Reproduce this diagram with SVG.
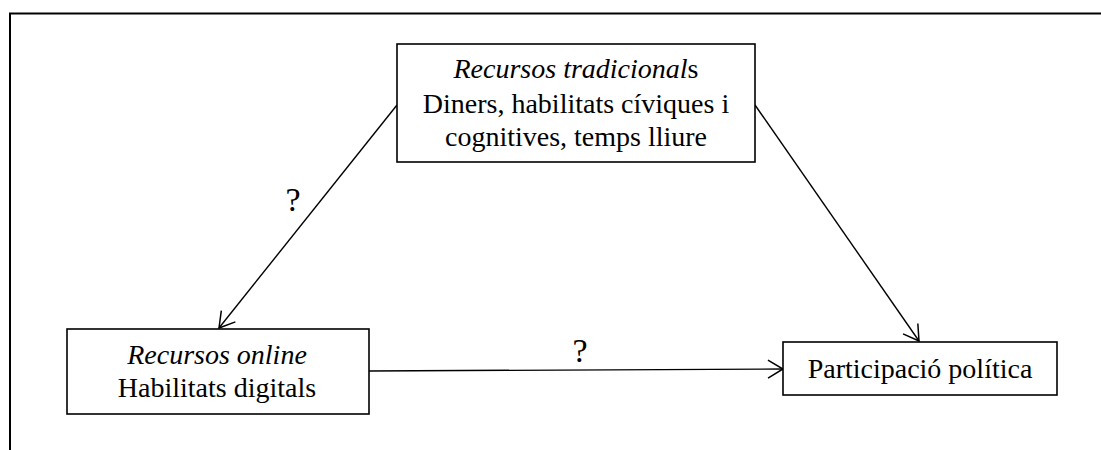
<svg xmlns="http://www.w3.org/2000/svg" width="1101" height="450" viewBox="0 0 1101 450">
<style>
text{font-family:"Liberation Serif","Times New Roman",serif;font-size:28px;fill:#000;text-anchor:middle}
.it{font-style:italic}
.box{fill:#fff;stroke:#000;stroke-width:1.6}
.conn{stroke:#000;stroke-width:1.4;fill:none}
.q{font-size:34px}
</style>
<defs>
<marker id="arr" markerUnits="userSpaceOnUse" markerWidth="20" markerHeight="20" refX="15" refY="9" orient="auto" overflow="visible">
<path d="M0,0 L15,9 L0,18" fill="none" stroke="#000" stroke-width="1.5"/>
</marker>
</defs>
<rect width="1101" height="450" fill="#fff"/>
<g id="frame">
<path d="M10,450 L10,13.5 L1101,13.5" fill="none" stroke="#000" stroke-width="2"/>
</g>
<g id="connectors">
<line class="conn" x1="397" y1="105" x2="219" y2="328" marker-end="url(#arr)"/>
<line class="conn" x1="755" y1="105" x2="919" y2="341" marker-end="url(#arr)"/>
<line class="conn" x1="369" y1="371" x2="783" y2="369" marker-end="url(#arr)"/>
<text class="q" x="293" y="211">?</text>
<text class="q" x="580" y="362">?</text>
</g>
<g id="node-tradicionals">
<rect class="box" x="397" y="44" width="358" height="118"/>
<text x="576" y="78"><tspan class="it">Recursos tradicional</tspan>s</text>
<text x="576" y="113">Diners, habilitats cíviques i</text>
<text x="576" y="146">cognitives, temps lliure</text>
</g>
<g id="node-online">
<rect class="box" x="67" y="329" width="302" height="85"/>
<text class="it" x="217" y="364">Recursos online</text>
<text x="217" y="397">Habilitats digitals</text>
</g>
<g id="node-participacio">
<rect class="box" x="783" y="342" width="274" height="53"/>
<text x="920" y="378">Participació política</text>
</g>
</svg>
